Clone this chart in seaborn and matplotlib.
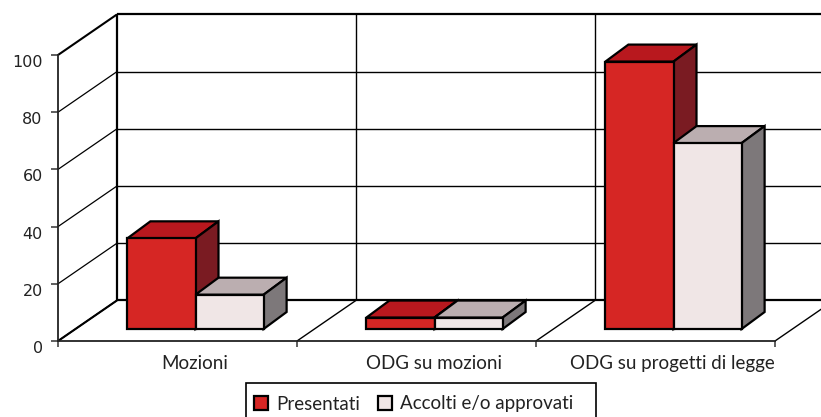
import matplotlib
matplotlib.use("Agg")
import matplotlib.pyplot as plt
from matplotlib.font_manager import FontProperties
from matplotlib.patches import Polygon, Rectangle
from matplotlib.ticker import FixedLocator, NullFormatter
import pandas as pd
import seaborn as sns

categories = ["Mozioni", "ODG su mozioni", "ODG su progetti di legge"]
presentati = [31.7, 4, 93.5]
accolti = [12, 4, 65]
series_names = ["Presentati", "Accolti e/o approvati"]
y_ticks = [0, 20, 40, 60, 80, 100]

front_colors = ["#D62624", "#F0E6E6"]
top_colors = ["#B8181E", "#BBAEB0"]
side_colors = ["#7A1B22", "#7D787A"]

df = pd.DataFrame({
    "categoria": categories * 2,
    "valore": presentati + accolti,
    "serie": [series_names[0]] * 3 + [series_names[1]] * 3,
})

W, H = 821, 417
sns.set_theme(style="white")
plt.rcParams["font.family"] = ["DejaVu Sans"]
fig = plt.figure(figsize=(W / 100, H / 100), dpi=100)
L, R, T, B = 58, 775, 55, 341
ax = fig.add_axes([L / W, 1 - B / H, (R - L) / W, (B - T) / H])

sns.barplot(data=df, x="categoria", y="valore", hue="serie", palette=front_colors,
            width=0.57, gap=0, saturation=1, edgecolor="black", linewidth=1.6, ax=ax, zorder=5)
ax.set_xlim(-0.5, 2.5)
ax.set_ylim(0, 100)

px_x = (R - L) / 3       # pixels per category
px_y = (B - T) / 100     # pixels per value unit
wall_dx, wall_dy = 59 / px_x, 40.6 / px_y
shift_dx, shift_dy = 18 / px_x, 12 / px_y
bar_dx, bar_dy = 23 / px_x, 17 / px_y

# Back walls and floor
line = dict(color="black", clip_on=False, zorder=1, solid_capstyle="butt")
for v in y_ticks:
    thick = v in (0, 100)
    ax.plot([-0.5, -0.5 + wall_dx], [v, v + wall_dy], lw=1.5 if thick else 0.9, **line)
    ax.plot([-0.5 + wall_dx, 2.5 + wall_dx], [v + wall_dy] * 2, lw=1.6 if thick else 1.0, **line)
for b in [-0.5, 0.5, 1.5, 2.5]:
    ax.plot([b, b + wall_dx], [0, wall_dy], lw=1.0, **line)
    ax.plot([b + wall_dx] * 2, [wall_dy, 100 + wall_dy], lw=1.6 if b == -0.5 else 1.0, **line)

# 3D faces on each bar, built from the bars' own geometry
edge = dict(edgecolor="black", linewidth=1.6, joinstyle="miter", clip_on=False)
for s, container in enumerate(ax.containers):
    for bar in container:
        x0, w, h = bar.get_x() + shift_dx, bar.get_width(), bar.get_height()
        y0 = shift_dy
        bar.set_x(x0)
        bar.set_y(y0)
        bar.set_clip_on(False)
        bar.set_zorder(5 + s * 2)
        x1, y1 = x0 + w, y0 + h
        ax.add_patch(Polygon([(x0, y1), (x1, y1), (x1 + bar_dx, y1 + bar_dy), (x0 + bar_dx, y1 + bar_dy)],
                             facecolor=top_colors[s], zorder=4 + s * 2, **edge))
        ax.add_patch(Polygon([(x1, y0), (x1, y1), (x1 + bar_dx, y1 + bar_dy), (x1 + bar_dx, y0 + bar_dy)],
                             facecolor=side_colors[s], zorder=4 + s * 2, **edge))

# Axes
for sp in ["top", "right"]:
    ax.spines[sp].set_visible(False)
for sp in ["left", "bottom"]:
    ax.spines[sp].set_linewidth(1.3)
    ax.spines[sp].set_color("#222222")
    ax.spines[sp].set_zorder(3)
ax.set_xlabel("")
ax.set_ylabel("")
ax.set_yticks(y_ticks)
ax.set_yticklabels([str(v) for v in y_ticks])
ax.tick_params(axis="y", length=5, width=1.1, color="#333333", pad=6, left=True, labelcolor="#222222")
for lab in ax.get_yticklabels():
    lab.set_fontproperties(FontProperties(family="DejaVu Sans", size=11.5))
    lab.set_verticalalignment("top")
ax.set_xticks([i + shift_dx - 0.003 for i in range(3)])
ax.set_xticklabels(categories)
ax.tick_params(axis="x", which="major", length=0, pad=10, labelcolor="#222222")
for lab in ax.get_xticklabels():
    lab.set_fontproperties(FontProperties(family="Lato", size=13.5))
ax.xaxis.set_minor_locator(FixedLocator([-0.5, 0.5, 1.5, 2.5]))
ax.xaxis.set_minor_formatter(NullFormatter())
ax.tick_params(axis="x", which="minor", length=4.3, width=1.1, color="#333333", bottom=True)

# Legend: the box runs off the bottom of the picture
handles, labels = ax.get_legend_handles_labels()
ax.get_legend().remove()
fig.add_artist(Rectangle((246 / W, 1 - 425 / H), 350 / W, 42 / H, transform=fig.transFigure,
                         facecolor="white", edgecolor="black", linewidth=1.2))
leg = fig.legend(handles, labels, ncol=2, loc="center left", bbox_to_anchor=(254 / W, 1 - 404 / H),
                 frameon=False, prop=FontProperties(family="Lato", size=13.5), handlelength=0.75,
                 handleheight=0.75, handletextpad=0.42, columnspacing=0.95, borderpad=0,
                 borderaxespad=0)
for t in leg.get_texts():
    t.set_color("#222222")
fig.savefig("out.png", dpi=100)
